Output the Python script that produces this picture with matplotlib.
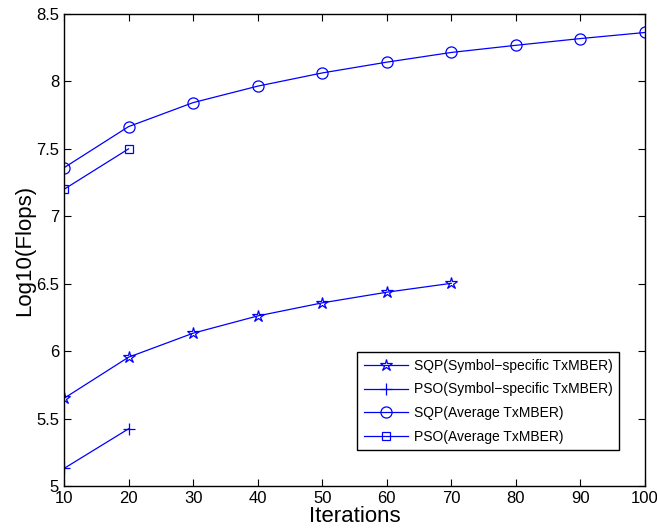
import numpy as np
import matplotlib
matplotlib.use('Agg')
import matplotlib.pyplot as plt
from matplotlib.ticker import FuncFormatter

plt.rcParams['font.family'] = ['Liberation Sans', 'DejaVu Sans']

iters = [10, 20, 30, 40, 50, 60, 70, 80, 90, 100]
sqp_avg = [7.36, 7.665, 7.843, 7.965, 8.063, 8.143, 8.215, 8.268, 8.318, 8.363]
pso_avg = [7.20, 7.50]
sqp_sym = [5.65, 5.955, 6.133, 6.261, 6.358, 6.437, 6.503]
pso_sym = [5.13, 5.424]

labels = ['SQP(Symbol\u2212specific TxMBER)', 'PSO(Symbol\u2212specific TxMBER)',
          'SQP(Average TxMBER)', 'PSO(Average TxMBER)']

blue = '#0000ff'
fig = plt.figure(figsize=(6.57, 5.29), dpi=100)
ax = fig.add_axes([0.0974, 0.0813, 0.8843, 0.8922])

lw = 0.9
ax.plot(iters[:len(sqp_sym)], sqp_sym, '-*', color=blue, lw=lw, ms=9,
        mfc='none', mew=0.9, label=labels[0])
ax.plot(iters[:len(pso_sym)], pso_sym, '-+', color=blue, lw=lw, ms=9,
        mew=0.9, label=labels[1])
ax.plot(iters, sqp_avg, '-o', color=blue, lw=lw, ms=8,
        mfc='none', mew=0.9, label=labels[2])
ax.plot(iters[:len(pso_avg)], pso_avg, '-s', color=blue, lw=lw, ms=5.5,
        mfc='none', mew=0.9, label=labels[3])

ax.set_xlim(10, 100)
ax.set_ylim(5, 8.5)
ax.set_xticks(iters)
ax.set_yticks(np.arange(5, 8.51, 0.5))
ax.yaxis.set_major_formatter(FuncFormatter(lambda v, p: '%g' % v))
ax.tick_params(direction='in', top=True, right=True, labelsize=12, length=5, width=0.8)
for s in ax.spines.values():
    s.set_linewidth(1.0)

ax.set_xlabel('Iterations', fontsize=16, labelpad=0)
ax.set_ylabel('Log10(Flops)', fontsize=16, labelpad=1)

leg = ax.legend(loc='upper left', bbox_to_anchor=(0.505, 0.283), borderaxespad=0,
                fontsize=10, fancybox=False, framealpha=1, edgecolor='black',
                handlelength=3.2, handletextpad=0.4, labelspacing=0.7,
                borderpad=0.45)
leg.get_frame().set_linewidth(1.0)

fig.savefig('out.png', dpi=100)
